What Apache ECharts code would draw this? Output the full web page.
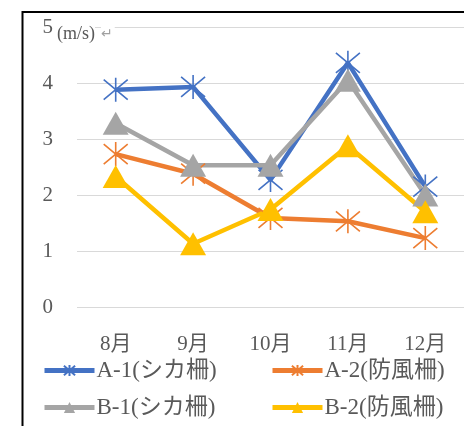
<!DOCTYPE html>
<html><head><meta charset="utf-8">
<script src="https://cdn.jsdelivr.net/npm/echarts@6/dist/echarts.min.js"></script>
<style>html,body{margin:0;padding:0;background:#fff}#c{width:464px;height:426px}</style>
</head><body><div id="c"></div>
<script>
const months = ['8月', '9月', '10月', '11月', '12月'];
const seriesNames = ['A-1(シカ柵)', 'A-2(防風柵)', 'B-1(シカ柵)', 'B-2(防風柵)'];
const a1 = [3.88, 3.93, 2.27, 4.36, 2.15];
const a2 = [2.73, 2.38, 1.59, 1.53, 1.23];
const b1 = [3.28, 2.53, 2.53, 4.05, 2.0];
const b2 = [2.33, 1.13, 1.74, 2.88, 1.7];
const unitLabel = '(m/s)';
const colors = ['#4472C4', '#ED7D31', '#A5A5A5', '#FFC000'];
const FONT = "'Liberation Serif', 'Noto Sans CJK JP', serif";
const STAR = 'path://M0,0L20,20M20,0L0,20M10,-2L10,22';

function mk(name, data, color, star) {
  return {
    type: 'line', name: name, data: data,
    symbol: star ? STAR : 'triangle',
    symbolSize: star ? 24 : [26, 23],
    lineStyle: { color: color, width: 4.5 },
    itemStyle: star ? { color: 'none', borderColor: color, borderWidth: 1.6 } : { color: color, borderWidth: 0 },
    emphasis: { disabled: true },
    animation: false
  };
}
function lg(name, left, top) {
  return {
    data: [name], left: left, top: top, padding: 0,
    itemWidth: 50, itemHeight: 14, itemGap: 0,
    lineStyle: { width: 5 },
    textStyle: { fontSize: 23, color: '#595959', fontFamily: FONT, padding: [0, 0, 0, -3] },
    selectedMode: false
  };
}
const chart = echarts.init(document.getElementById('c'), null, { renderer: 'canvas' });
chart.setOption({
  animation: false,
  grid: { left: 77, right: 0, top: 27, bottom: 119, containLabel: false, outerBoundsMode: 'none' },
  xAxis: {
    type: 'category', data: months, boundaryGap: true,
    axisLine: { show: false }, axisTick: { show: false },
    axisLabel: { color: '#595959', fontSize: 21, fontFamily: FONT, margin: 27 }
  },
  yAxis: {
    type: 'value', min: 0, max: 5, interval: 1,
    axisLine: { show: false }, axisTick: { show: false },
    splitLine: { lineStyle: { color: '#D9D9D9', width: 1.2 } },
    axisLabel: { color: '#595959', fontSize: 21, fontFamily: FONT, margin: 24 }
  },
  legend: [
    lg(seriesNames[0], 42, 359),
    lg(seriesNames[1], 270, 359),
    lg(seriesNames[2], 42, 396),
    lg(seriesNames[3], 270, 396)
  ],
  series: [
    mk(seriesNames[0], a1, colors[0], true),
    mk(seriesNames[1], a2, colors[1], true),
    mk(seriesNames[2], b1, colors[2], false),
    mk(seriesNames[3], b2, colors[3], false)
  ],
  graphic: [
    { type: 'rect', shape: { x: 22.5, y: 12, width: 700, height: 700 }, style: { fill: 'none', stroke: '#000', lineWidth: 2 }, z: 100 },
    { type: 'text', left: 57, top: 24, style: { text: unitLabel, fontSize: 18, fill: '#595959', fontFamily: FONT, backgroundColor: '#fff', padding: [1, 0, 1, 0] }, z: 100 },
    { type: 'text', left: 101, top: 26, style: { text: '↵', fontSize: 14, fill: '#A0A0A0', fontFamily: "'DejaVu Sans'", backgroundColor: '#fff', padding: [1, 2, 1, 0] }, z: 100 }
  ]
});
</script></body></html>
